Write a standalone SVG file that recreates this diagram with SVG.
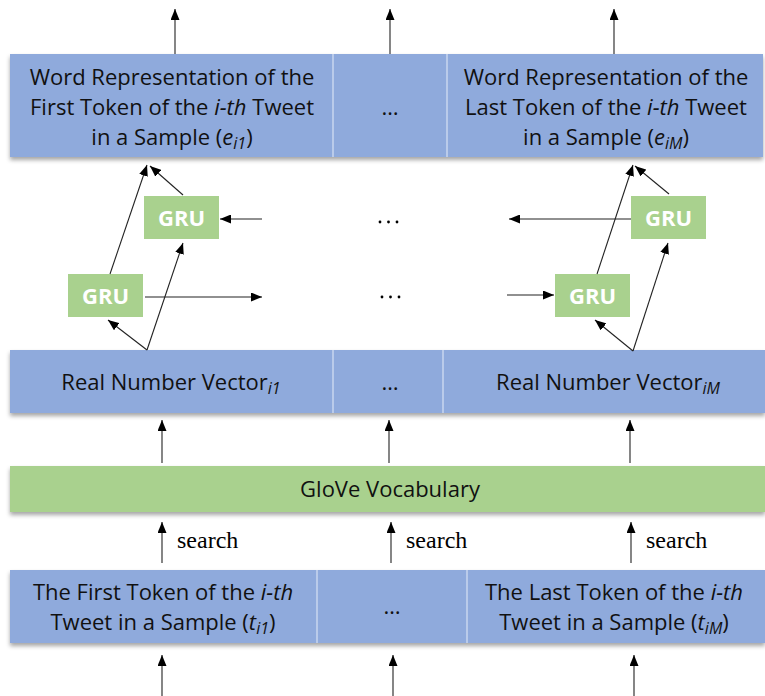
<svg xmlns="http://www.w3.org/2000/svg" width="765" height="696" viewBox="0 0 765 696">
<defs>
<marker id="ah" viewBox="0 0 11 9" refX="11" refY="4.5" markerWidth="11" markerHeight="9" markerUnits="userSpaceOnUse" orient="auto">
<path d="M0,0 L11,4.5 L0,9 z" fill="#000"/>
</marker>
<filter id="sh" x="-5%" y="-20%" width="110%" height="150%">
<feDropShadow dx="0" dy="3" stdDeviation="2" flood-color="#000" flood-opacity="0.35"/>
</filter>
</defs>
<style>
.blue{fill:#8FAADC}
.green{fill:#A9D18E}
.div{stroke:#C9D6EF;stroke-width:1.5}
.t{font-family:"Open Sans","Noto Sans",sans-serif;font-size:22px;fill:#111;text-anchor:middle}
.gru{font-family:"Open Sans","Noto Sans",sans-serif;font-size:22px;font-weight:bold;fill:#fff;text-anchor:middle}
.s{font-family:"Liberation Serif","Times New Roman",serif;font-size:24px;fill:#000}
.c{stroke:#222;stroke-width:1.1;fill:none;marker-end:url(#ah)}
.dot{fill:#000}
</style>

<g id="word-repr">
<rect x="10" y="54" width="753" height="103" class="blue" filter="url(#sh)"/>
<line x1="333" y1="54" x2="333" y2="157" class="div"/>
<line x1="447" y1="54" x2="447" y2="157" class="div"/>
<text class="t" x="172" y="85">Word Representation of the</text>
<text class="t" x="172" y="115">First Token of the <tspan font-style="italic">i-th</tspan> Tweet</text>
<text class="t" x="172" y="145">in a Sample (<tspan font-style="italic">e</tspan><tspan font-style="italic" font-size="16" dy="4">i1</tspan><tspan dy="-4">)</tspan></text>
<text class="t" x="390" y="115">…</text>
<text class="t" x="606" y="85">Word Representation of the</text>
<text class="t" x="606" y="115">Last Token of the <tspan font-style="italic">i-th</tspan> Tweet</text>
<text class="t" x="606" y="145">in a Sample  (<tspan font-style="italic">e</tspan><tspan font-style="italic" font-size="16" dy="4">iM</tspan><tspan dy="-4">)</tspan></text>
</g>

<g id="gru-b1">
<rect x="144" y="196" width="75" height="43" class="green"/>
<text class="gru" x="181.5" y="225.5">GRU</text>
</g>
<g id="gru-f1">
<rect x="68" y="274" width="75" height="43" class="green"/>
<text class="gru" x="105.5" y="303.5">GRU</text>
</g>
<g id="gru-bM">
<rect x="631" y="196" width="75" height="43" class="green"/>
<text class="gru" x="668.5" y="225.5">GRU</text>
</g>
<g id="gru-fM">
<rect x="555" y="274" width="75" height="43" class="green"/>
<text class="gru" x="592.5" y="303.5">GRU</text>
</g>

<g id="dots">
<circle class="dot" cx="380" cy="222" r="1.4"/>
<circle class="dot" cx="388.5" cy="222" r="1.4"/>
<circle class="dot" cx="397" cy="222" r="1.4"/>
<circle class="dot" cx="382" cy="297" r="1.4"/>
<circle class="dot" cx="390.5" cy="297" r="1.4"/>
<circle class="dot" cx="399" cy="297" r="1.4"/>
</g>

<g id="real-vec">
<rect x="10" y="350" width="755" height="63" class="blue" filter="url(#sh)"/>
<line x1="333" y1="350" x2="333" y2="413" class="div"/>
<line x1="443" y1="350" x2="443" y2="413" class="div"/>
<text class="t" x="171" y="390">Real Number Vector<tspan font-style="italic" font-size="16" dy="4">i1</tspan></text>
<text class="t" x="390" y="390">…</text>
<text class="t" x="608" y="390">Real Number Vector<tspan font-style="italic" font-size="16" dy="4">iM</tspan></text>
</g>

<g id="glove">
<rect x="10" y="466" width="755" height="46" class="green" filter="url(#sh)"/>
<text class="t" x="390" y="497">GloVe Vocabulary</text>
</g>

<g id="tokens">
<rect x="10" y="570" width="755" height="73" class="blue" filter="url(#sh)"/>
<line x1="317" y1="570" x2="317" y2="643" class="div"/>
<line x1="467" y1="570" x2="467" y2="643" class="div"/>
<text class="t" x="163" y="600">The First Token of the <tspan font-style="italic">i-th</tspan></text>
<text class="t" x="163" y="630">Tweet in a Sample  (<tspan font-style="italic">t</tspan><tspan font-style="italic" font-size="16" dy="4">i1</tspan><tspan dy="-4">)</tspan></text>
<text class="t" x="392" y="614">…</text>
<text class="t" x="614" y="600">The Last Token of the <tspan font-style="italic">i-th</tspan></text>
<text class="t" x="614" y="630">Tweet in a Sample (<tspan font-style="italic">t</tspan><tspan font-style="italic" font-size="16" dy="4">iM</tspan><tspan dy="-4">)</tspan></text>
</g>

<g id="connectors">
<line class="c" x1="175" y1="54" x2="175" y2="9"/>
<line class="c" x1="390" y1="54" x2="390" y2="9"/>
<line class="c" x1="614" y1="54" x2="614" y2="9"/>

<line class="c" x1="110" y1="274" x2="147" y2="165"/>
<line class="c" x1="183" y1="195" x2="150" y2="166"/>
<line class="c" x1="147" y1="350" x2="108" y2="320"/>
<line class="c" x1="147" y1="350" x2="183" y2="243"/>
<line class="c" x1="262" y1="219" x2="220" y2="219"/>
<line class="c" x1="145" y1="297" x2="262" y2="297"/>

<line class="c" x1="631" y1="219" x2="509" y2="219"/>
<line class="c" x1="507" y1="295" x2="554" y2="295"/>
<line class="c" x1="597" y1="274" x2="633" y2="165"/>
<line class="c" x1="669" y1="194" x2="635" y2="166"/>
<line class="c" x1="633" y1="351" x2="595" y2="320"/>
<line class="c" x1="633" y1="351" x2="668" y2="243"/>

<line class="c" x1="162" y1="463" x2="162" y2="420"/>
<line class="c" x1="389" y1="463" x2="389" y2="420"/>
<line class="c" x1="630" y1="463" x2="630" y2="420"/>

<line class="c" x1="162" y1="563" x2="162" y2="522"/>
<line class="c" x1="391" y1="563" x2="391" y2="522"/>
<line class="c" x1="631" y1="563" x2="631" y2="522"/>

<line class="c" x1="162" y1="696" x2="162" y2="655"/>
<line class="c" x1="393" y1="696" x2="393" y2="655"/>
<line class="c" x1="634" y1="696" x2="634" y2="655"/>

<text class="s" x="177" y="548">search</text>
<text class="s" x="406" y="548">search</text>
<text class="s" x="646" y="548">search</text>
</g>
</svg>
